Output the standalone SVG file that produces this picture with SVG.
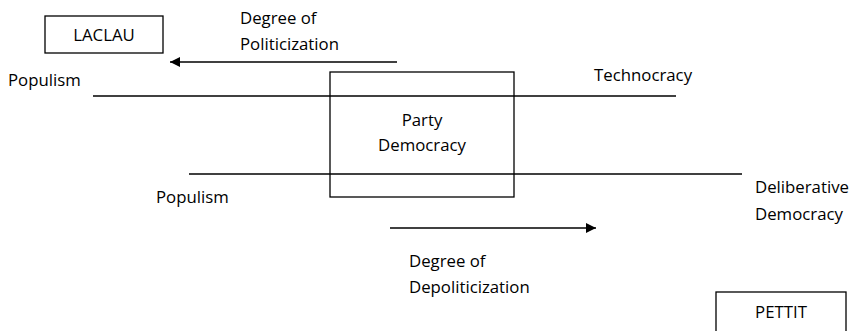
<svg xmlns="http://www.w3.org/2000/svg" width="857" height="331" viewBox="0 0 857 331">
<defs>
<style>
text{font-family:"Open Sans","Liberation Sans",sans-serif;font-size:16.8px;fill:#000}
.box{fill:none;stroke:#000;stroke-width:1.3}
.ln{stroke:#000;stroke-width:1.3;fill:none}
</style>
<marker id="ah" viewBox="0 0 10 10" refX="10" refY="5" markerWidth="10" markerHeight="10" markerUnits="userSpaceOnUse" orient="auto">
<path d="M0,0 L10,5 L0,10 z" fill="#000"/>
</marker>
</defs>
<rect width="857" height="331" fill="#fff"/>
<g id="connectors">
<line class="ln" x1="397" y1="62" x2="170" y2="62" marker-end="url(#ah)"/>
<line class="ln" x1="390" y1="228" x2="596" y2="228" marker-end="url(#ah)"/>
<line class="ln" x1="93" y1="96" x2="676" y2="96"/>
<line class="ln" x1="189" y1="174" x2="742" y2="174"/>
</g>
<g id="laclau">
<rect class="box" x="45" y="16" width="118" height="37"/>
<text x="104" y="41" text-anchor="middle">LACLAU</text>
</g>
<g id="party-democracy">
<rect class="box" x="330" y="72" width="184" height="125"/>
<text x="422" y="126" text-anchor="middle">Party</text>
<text x="422" y="151" text-anchor="middle">Democracy</text>
</g>
<g id="pettit">
<rect class="box" x="716" y="292" width="130" height="45"/>
<text x="781" y="318" text-anchor="middle">PETTIT</text>
</g>
<g id="labels">
<text x="240" y="24">Degree of</text>
<text x="240" y="50">Politicization</text>
<text x="8" y="86">Populism</text>
<text x="594" y="81">Technocracy</text>
<text x="156" y="203">Populism</text>
<text x="755" y="193">Deliberative</text>
<text x="755" y="220">Democracy</text>
<text x="409" y="267">Degree of</text>
<text x="409" y="293">Depoliticization</text>
</g>
</svg>
